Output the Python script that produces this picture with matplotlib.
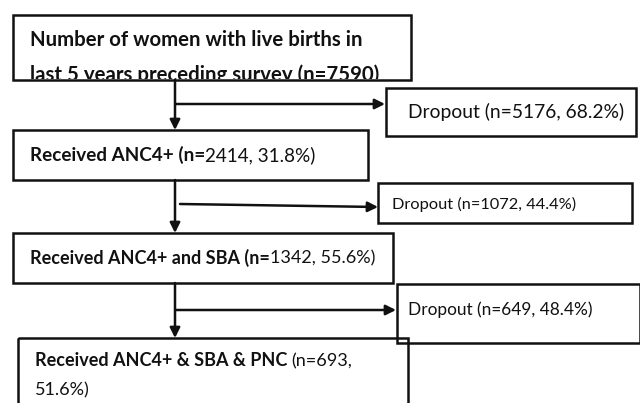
import matplotlib
matplotlib.use("Agg")
import matplotlib.pyplot as plt
from matplotlib.patches import Rectangle
from matplotlib.transforms import Bbox, TransformedBbox

FONT = "Lato"

# Flow data
main_labels = [
    [("Number of women with live births in", "bold")],
    [("Received ANC4+ (n=", "bold"), ("2414, 31.8%)", "normal")],
    [("Received ANC4+ and SBA (n=", "bold"), ("1342, 55.6%)", "normal")],
    [("Received ANC4+ & SBA & PNC ", "bold"), ("(n=693,", "normal")],
]
main_second_lines = [
    [("last 5 years preceding survey (n=7590)", "bold")],
    None,
    None,
    [("51.6%)", "normal")],
]
dropout_labels = ["Dropout (n=5176, 68.2%)", "Dropout (n=1072, 44.4%)", "Dropout (n=649, 48.4%)"]

# Layout (pixel coords, y downward)
main_boxes = [(13, 15, 398, 65), (13, 130, 355, 50), (13, 233, 380, 50), (18, 338, 390, 70)]
main_text_y = [[40, 75], [155], [258], [361, 390]]
main_text_x = [30, 30, 30, 35]
main_sizes = [14.7, 13.6, 13, 13]
drop_boxes = [(386, 88, 250, 48), (378, 183, 254, 40), (397, 284, 243, 59)]
drop_text = [(408, 112, 13.9), (392, 204, 11.8), (408, 310, 12.4)]
arrow_x = 175
v_arrows = [(80, 130), (180, 233), (283, 338)]
h_arrows = [((176, 104), (385, 104)), ((180, 204), (378, 207)), ((176, 310), (396, 310))]

fig = plt.figure(figsize=(6.4, 4.03), dpi=100)
ax = fig.add_axes([0, 0, 1, 1])
ax.set_xlim(0, 640)
ax.set_ylim(403, 0)
ax.axis("off")

for (x, y, w, h) in main_boxes + drop_boxes:
    ax.add_patch(Rectangle((x, y), w, h, fill=False, edgecolor="#111111", lw=1.8, zorder=3))

clip_box = TransformedBbox(Bbox([[13, 15], [411, 79]]), ax.transData)

fig.canvas.draw()
r = fig.canvas.get_renderer()

def runs(parts, x, y, size, clip=None):
    cx = x
    for txt, wt in parts:
        t = ax.text(cx, y, txt, fontsize=size, fontweight=wt, family=FONT,
                    va="center", ha="left", color="#111111")
        bb = t.get_window_extent(renderer=r)
        if clip is not None:
            t.set_clip_box(clip)
            t.set_clip_on(True)
        inv = ax.transData.inverted()
        cx = inv.transform((bb.x1, bb.y0))[0]

for i, parts in enumerate(main_labels):
    runs(parts, main_text_x[i], main_text_y[i][0], main_sizes[i])
    if main_second_lines[i]:
        runs(main_second_lines[i], main_text_x[i], main_text_y[i][1], main_sizes[i],
             clip=clip_box if i == 0 else None)

for lab, (x, y, s) in zip(dropout_labels, drop_text):
    ax.text(x, y, lab, fontsize=s, family=FONT, va="center", ha="left", color="#111111")

for (y0, y1) in v_arrows:
    ax.annotate("", xy=(arrow_x, y1), xytext=(arrow_x, y0),
                arrowprops=dict(arrowstyle="-|>,head_length=0.6,head_width=0.3",
                                color="#111111", lw=1.8, shrinkA=0, shrinkB=0))
for (p0, p1) in h_arrows:
    ax.annotate("", xy=p1, xytext=p0,
                arrowprops=dict(arrowstyle="-|>,head_length=0.6,head_width=0.3",
                                color="#111111", lw=1.8, shrinkA=0, shrinkB=0))

fig.savefig("out.png", dpi=100)
